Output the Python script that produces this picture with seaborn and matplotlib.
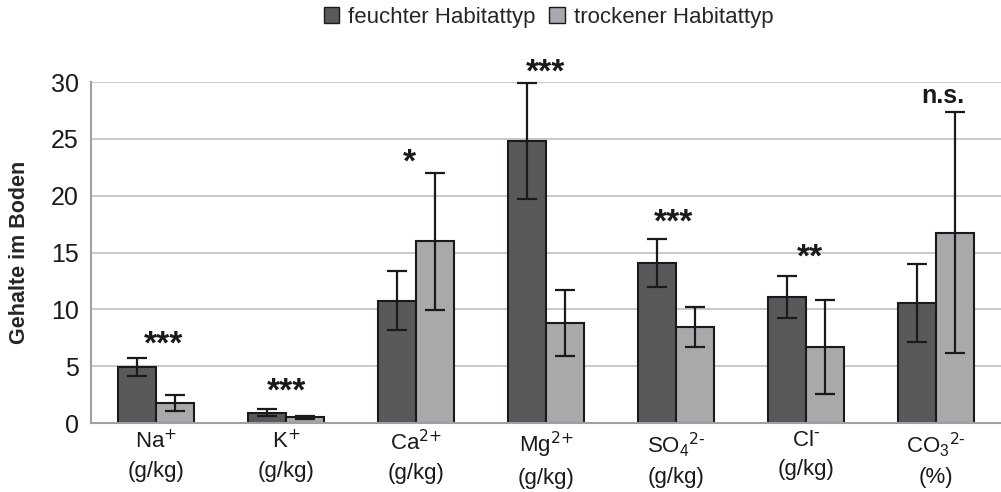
import numpy as np
import pandas as pd
import matplotlib
matplotlib.use("Agg")
import matplotlib.pyplot as plt
import seaborn as sns
from matplotlib.patches import Patch

# Werte
ionen = [r"Na$^{\text{+}}$" + "\n(g/kg)", r"K$^{\text{+}}$" + "\n(g/kg)",
         r"Ca$^{\text{2+}}$" + "\n(g/kg)", r"Mg$^{\text{2+}}$" + "\n(g/kg)",
         r"SO$_{4}$$^{\text{2-}}$" + "\n(g/kg)", r"Cl$^{\text{-}}$" + "\n(g/kg)",
         r"CO$_{3}$$^{\text{2-}}$" + "\n(%)"]
feucht = [4.95, 0.9, 10.75, 24.85, 14.1, 11.1, 10.55]
feucht_fehler = [0.8, 0.3, 2.6, 5.1, 2.1, 1.85, 3.45]
trocken = [1.8, 0.5, 16.0, 8.8, 8.45, 6.7, 16.75]
trocken_fehler = [0.7, 0.1, 6.05, 2.9, 1.75, 4.15, 10.6]
signifikanz = ["***", "***", "*", "***", "***", "**", "n.s."]
sig_hoehe = [6.9, 2.7, 22.9, 30.8, 17.6, 14.5, 28.8]
sig_versatz = [0.06, 0.0, -0.05, 0.0, -0.02, 0.03, 0.05]
typen = ["feuchter Habitattyp", "trockener Habitattyp"]
farben = ["#58595b", "#a7a9ac"]

df = pd.DataFrame({
    "ion": ionen * 2,
    "wert": feucht + trocken,
    "typ": [typen[0]] * len(ionen) + [typen[1]] * len(ionen),
})

sns.set_style("white")
plt.rcParams["font.family"] = ["Liberation Sans", "DejaVu Sans"]
plt.rcParams["mathtext.default"] = "regular"

fig = plt.figure(figsize=(10.01, 4.92), dpi=100)
ax = fig.add_axes([0.091, 0.140, 0.909, 0.693])

sns.barplot(data=df, x="ion", y="wert", hue="typ", palette=farben, width=0.59,
            edgecolor="#1a1a1a", linewidth=1.5, errorbar=None, gap=0, legend=False, ax=ax)

# Fehlerbalken
for cont, fehler in zip(ax.containers, [feucht_fehler, trocken_fehler]):
    for bar, f in zip(cont, fehler):
        ax.errorbar(bar.get_x() + bar.get_width() / 2, bar.get_height(), yerr=f,
                    fmt="none", ecolor="#1a1a1a", elinewidth=1.6, capsize=7,
                    capthick=1.6, clip_on=False, zorder=5)

# Signifikanzen
for i, (s, h, dx) in enumerate(zip(signifikanz, sig_hoehe, sig_versatz)):
    ax.text(i + dx, h, s, ha="center", va="center", fontsize=24 if s != "n.s." else 18,
            fontweight="bold", color="#1a1a1a", clip_on=False)

ax.set_ylim(0, 30)
ax.set_xlim(-0.5, len(ionen) - 0.5)
ax.set_yticks(range(0, 31, 5))
ax.yaxis.grid(True, color="#c0c0c0", linewidth=1.2)
ax.set_axisbelow(True)
for s in ["top", "right"]:
    ax.spines[s].set_visible(False)
ax.spines["left"].set_color("#a0a0a0")
ax.spines["bottom"].set_color("#a0a0a0")
ax.spines["left"].set_linewidth(1.5)
ax.spines["bottom"].set_linewidth(1.5)

ax.tick_params(axis="y", labelsize=18, colors="#a0a0a0", labelcolor="#1a1a1a",
               length=5, width=1.2, pad=4)
ax.tick_params(axis="x", labelsize=16, length=0, pad=5, labelcolor="#1a1a1a")
for lab in ax.get_xticklabels():
    lab.set_linespacing(1.5)
    lab.set_va("top")
ax.set_xlabel("")
ax.set_ylabel("Gehalte im Boden", fontsize=15.5, fontweight="bold", labelpad=15)

handles = [Patch(facecolor=c, edgecolor="#1a1a1a", linewidth=1) for c in farben]
fig.legend(handles, typen, loc="center", bbox_to_anchor=(0.548, 0.965), ncol=2,
           frameon=False, fontsize=16, handlelength=0.7, handleheight=0.7,
           handletextpad=0.4, columnspacing=0.6)

fig.savefig("out.png", dpi=100)
